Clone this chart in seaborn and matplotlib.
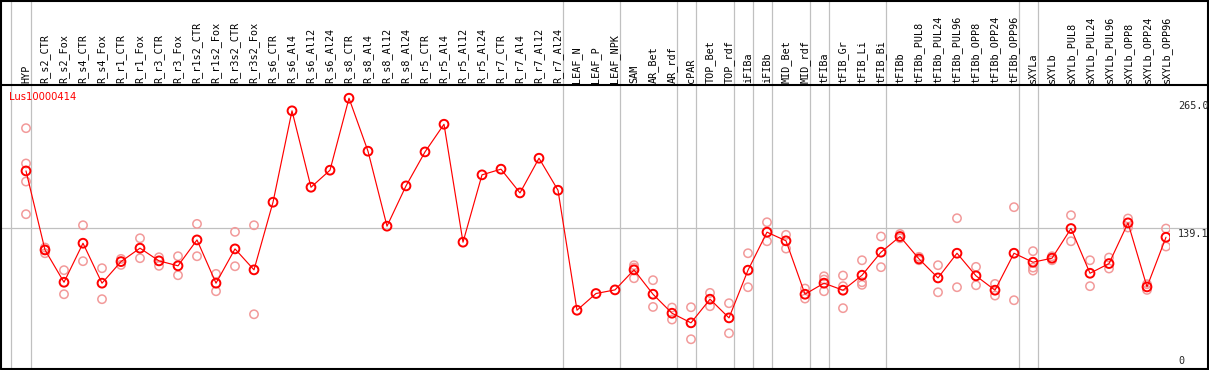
"""Expression profile for Lus10000414 across tissues (mean + replicates)."""

import matplotlib
matplotlib.use("Agg")
import matplotlib.pyplot as plt
from matplotlib.lines import Line2D
import seaborn as sns
import pandas as pd
import numpy as np

# ---- data ----
categories = [
    "HYP", "R_s2_CTR", "R_s2_Fox", "R_s4_CTR", "R_s4_Fox", "R_r1_CTR", "R_r1_Fox",
    "R_r3_CTR", "R_r3_Fox", "R_r1s2_CTR", "R_r1s2_Fox", "R_r3s2_CTR", "R_r3s2_Fox",
    "R_s6_CTR", "R_s6_Al4", "R_s6_Al12", "R_s6_Al24", "R_s8_CTR", "R_s8_Al4",
    "R_s8_Al12", "R_s8_Al24", "R_r5_CTR", "R_r5_Al4", "R_r5_Al12", "R_r5_Al24",
    "R_r7_CTR", "R_r7_Al4", "R_r7_Al12", "R_r7_Al24", "LEAF_N", "LEAF_P", "LEAF_NPK",
    "SAM", "AR_Bet", "AR_rdf", "cPAR", "TOP_Bet", "TOP_rdf", "iFIBa", "iFIBb",
    "MID_Bet", "MID_rdf", "tFIBa", "tFIB_Gr", "tFIB_Li", "tFIB_Bi", "tFIBb",
    "tFIBb_PUL8", "tFIBb_PUL24", "tFIBb_PUL96", "tFIBb_OPP8", "tFIBb_OPP24",
    "tFIBb_OPP96", "sXYLa", "sXYLb", "sXYLb_PUL8", "sXYLb_PUL24", "sXYLb_PUL96",
    "sXYLb_OPP8", "sXYLb_OPP24", "sXYLb_OPP96",
]

means = [
    194.6, 118.1, 86.8, 124.6, 85.9, 106.8, 119.8,
    107.5, 102.7, 127.8, 85.9, 119.1, 98.8,
    164.3, 252.8, 178.8, 195.3, 265.0, 213.7,
    141.1, 180.1, 213.0, 239.8, 125.6, 190.8,
    196.3, 173.3, 206.9, 175.9, 59.7, 75.9, 79.4,
    98.8, 75.2, 56.8, 47.5, 70.4, 52.3, 98.5, 135.3,
    126.9, 75.2, 85.9, 79.1, 93.6, 115.9, 131.1,
    109.4, 91.0, 114.9, 93.0, 79.1,
    114.9, 106.2, 110.1, 138.8, 95.5, 104.9,
    144.3, 82.3, 130.4,
]

replicates = [
    [236.0, 201.8, 184.3, 152.7], [120.4, 118.1, 114.9], [98.5, 75.2], [142.0, 107.2],
    [100.4, 70.4], [109.4, 103.6], [129.4, 110.1],
    [111.0, 102.7], [112.0, 93.6], [143.3, 112.0], [94.9, 78.1], [135.6, 102.3],
    [142.0, 55.8],
    [], [], [], [], [], [], [], [], [], [], [], [], [], [], [], [],
    [], [], [],
    [103.3, 101.0, 90.7], [88.8, 62.9], [62.3, 50.7], [62.6, 31.6], [76.5, 63.6],
    [66.5, 37.4], [114.9, 82.0], [144.9, 126.5],
    [132.7, 119.4], [80.7, 71.0], [92.6, 89.4, 78.1], [93.3, 83.0, 61.7],
    [108.1, 86.8, 84.3], [131.1, 101.4], [133.6, 129.4],
    [111.4, 108.1], [103.3, 77.1], [148.8, 82.0], [101.7, 83.9], [85.2, 73.9],
    [159.5, 69.4], [116.9, 101.0, 98.1], [112.0, 108.1], [151.7, 126.5],
    [108.1, 83.0], [110.7, 100.1],
    [148.5, 139.8], [84.9, 79.4], [138.8, 121.4],
]

group_sizes = [1, 28, 3, 3, 1, 2, 1, 1, 2, 1, 3, 7, 1, 7]
gene_id = "Lus10000414"
axis_labels = ["265.0", "139.1", "0"]
ref_value = 139.1

# ---- style ----
RED = "#ff0000"
PINK = "#f29a9a"
GRID = "#c0c0c0"
W, H = 1209, 370

sns.set_theme(style="white")
plt.rcParams["font.family"] = ["DejaVu Sans"]

x = np.arange(len(categories))
mean_df = pd.DataFrame({"x": x, "value": means})
rep_df = pd.DataFrame(
    [(i, v) for i, reps in enumerate(replicates) for v in reps], columns=["x", "value"]
)

fig = plt.figure(figsize=(W / 100, H / 100), dpi=100)
fig.patch.set_facecolor("white")

# pixel -> figure-fraction helpers
def fx(px):
    return px / W

def fy(py):
    return 1 - py / H

plot_left, plot_right, plot_top, plot_bot = 1, 1170, 85, 369
xlim = ((plot_left - 26) / 19, (plot_right - 26) / 19)

ax = fig.add_axes([fx(plot_left), fy(plot_bot), fx(plot_right - plot_left),
                   (plot_bot - plot_top) / H])
head = fig.add_axes([fx(plot_left), fy(plot_top), fx(plot_right - plot_left),
                     plot_top / H])
for a in (ax, head):
    a.set_xlim(*xlim)
    a.set_facecolor("white")
    a.set_xticks([])
    a.set_yticks([])
    for s in a.spines.values():
        s.set_visible(False)
ax.set_ylim(2.8, 277.8)
head.set_ylim(0, 1)

# group separators
bounds = [-0.8] + list(np.cumsum(group_sizes) - 1 + 0.25)
for b in bounds:
    for a in (ax, head):
        a.axvline(b, color=GRID, lw=0.9, zorder=0)

# reference line running into the label margin
ax.axhline(ref_value, xmin=0, xmax=(W - plot_left) / (plot_right - plot_left),
           color=GRID, lw=0.9, zorder=0, clip_on=False)

# replicates, mean line and mean markers
sns.scatterplot(data=rep_df, x="x", y="value", ax=ax, marker="o", s=36,
                facecolors="none", edgecolor=PINK, linewidth=1.1, zorder=2)
sns.lineplot(data=mean_df, x="x", y="value", ax=ax, color=RED, lw=0.85, zorder=3)
sns.scatterplot(data=mean_df, x="x", y="value", ax=ax, marker="o", s=40,
                facecolors="none", edgecolor=RED, linewidth=1.4, zorder=4)
ax.set_xlabel("")
ax.set_ylabel("")
ax.set_xlim(*xlim)
ax.set_ylim(2.8, 277.8)

# category labels in the header
for i, lab in enumerate(categories):
    head.text(i, 2 / plot_top, lab, rotation=90, ha="center", va="bottom",
              fontsize=7.3, family="DejaVu Sans Mono", color="black")

ax.text(fx(9), fy(97), gene_id, transform=fig.transFigure, color=RED,
        fontsize=7.2, ha="left", va="center")

# value labels at the right
fig.text(fx(1178), fy(101), axis_labels[0], fontsize=7.3,
         family="DejaVu Sans Mono", ha="left", va="top")
fig.text(fx(1178), fy(229), axis_labels[1], fontsize=7.3,
         family="DejaVu Sans Mono", ha="left", va="top")
fig.text(fx(1178), fy(366), axis_labels[2], fontsize=7.3,
         family="DejaVu Sans Mono", ha="left", va="bottom")

# outer frame and header separator
frame = [((0.5, 0.5), (W - 0.5, 0.5)), ((0.5, plot_bot), (W - 0.5, plot_bot)),
         ((1, 0), (1, plot_bot)), ((W - 1, 0), (W - 1, plot_bot)),
         ((0, plot_top), (W, plot_top))]
for (x0, y0), (x1, y1) in frame:
    fig.add_artist(Line2D([fx(x0), fx(x1)], [fy(y0), fy(y1)], color="black", lw=1.5))

fig.savefig("out.png", dpi=100)
